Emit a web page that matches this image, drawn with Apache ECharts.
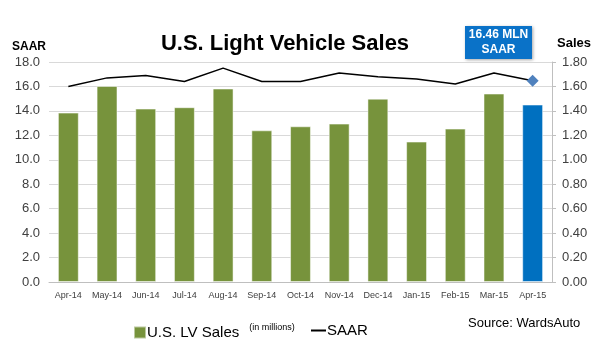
<!DOCTYPE html>
<html>
<head>
<meta charset="utf-8">
<script src="https://cdn.jsdelivr.net/npm/echarts@6/dist/echarts.min.js"></script>
<style>
  html, body { margin: 0; padding: 0; background: #fff; }
  #chart { width: 606px; height: 353px; }
</style>
</head>
<body>
<div id="chart"></div>
<script>
const months = ['Apr-14', 'May-14', 'Jun-14', 'Jul-14', 'Aug-14', 'Sep-14', 'Oct-14',
  'Nov-14', 'Dec-14', 'Jan-15', 'Feb-15', 'Mar-15', 'Apr-15']
// monthly sales, millions (right axis)
const sales = [1.386, 1.604, 1.419, 1.430, 1.583, 1.241, 1.274, 1.296, 1.500, 1.149, 1.255, 1.542, 1.452]
// seasonally adjusted annual rate, millions (left axis)
const saar = [16.0, 16.7, 16.9, 16.4, 17.5, 16.4, 16.4, 17.1, 16.8, 16.6, 16.2, 17.1, 16.46]

const green = '#77933C'
const blue = '#0070C0'
const font = 'Liberation Sans, Arial, sans-serif'

const chart = echarts.init(document.getElementById('chart'))

const lastIdx = months.length - 1
const barData = sales.map((v, i) => i === lastIdx ? { value: v, itemStyle: { color: blue } } : v)
const lineData = saar.map((v, i) => i === lastIdx
  ? { value: v, symbol: 'diamond', symbolSize: 12, itemStyle: { color: '#4F81BD' } }
  : v)

chart.setOption({
  animation: false,
  textStyle: { fontFamily: font },
  title: {
    text: 'U.S. Light Vehicle Sales',
    left: 280,
    textAlign: 'center',
    top: 28,
    textStyle: { fontSize: 22, fontWeight: 'bold', color: '#000', fontFamily: font }
  },
  grid: { left: 49, right: 54, top: 62, bottom: 71 },
  legend: [
    {
      left: 128,
      top: 318,
      itemWidth: 12,
      itemHeight: 12,
      data: [{ name: 'U.S. LV Sales', icon: 'rect' }],
      formatter: () => '{a|U.S. LV Sales}{b|(in millions)}',
      textStyle: {
        padding: [0, 0, 0, -4],
        rich: {
          a: { fontSize: 15, color: '#000', fontFamily: font },
          b: { fontSize: 9, color: '#000', fontFamily: font, verticalAlign: 'top', padding: [0, 0, 10, 10] }
        }
      }
    },
    {
      left: 306,
      top: 318,
      itemWidth: 15,
      itemHeight: 2,
      data: [{ name: 'SAAR', icon: 'rect', itemStyle: { color: '#000' } }],
      textStyle: { fontSize: 15, color: '#000', padding: [0, 0, 0, -4] }
    }
  ],
  xAxis: {
    type: 'category',
    data: months,
    axisLine: { lineStyle: { color: '#bfbfbf' } },
    axisTick: { show: false },
    axisLabel: { fontSize: 9, color: '#404040', margin: 9, interval: 0 }
  },
  yAxis: [
    {
      type: 'value',
      min: 0, max: 18, interval: 2,
      name: 'SAAR',
      nameLocation: 'end',
      nameGap: 9,
      nameTextStyle: { fontSize: 12, fontWeight: 'bold', color: '#000', align: 'right', padding: [0, 3, 0, 0] },
      axisLine: { show: false },
      axisTick: { show: false },
      axisLabel: { fontSize: 13, color: '#404040', margin: 9, formatter: v => v.toFixed(1) },
      splitLine: { lineStyle: { color: '#d9d9d9' } }
    },
    {
      type: 'value',
      min: 0, max: 1.8, interval: 0.2,
      name: 'Sales',
      nameLocation: 'end',
      nameGap: 12,
      nameTextStyle: { fontSize: 13, fontWeight: 'bold', color: '#000', align: 'left', padding: [0, 0, 0, 5] },
      axisLine: { show: true, lineStyle: { color: '#bfbfbf' } },
      axisTick: { show: true, length: 4, lineStyle: { color: '#bfbfbf' } },
      axisLabel: { fontSize: 13, color: '#404040', margin: 10, formatter: v => v.toFixed(2) },
      splitLine: { show: false }
    }
  ],
  series: [
    {
      name: 'U.S. LV Sales',
      type: 'bar',
      yAxisIndex: 1,
      data: barData,
      barWidth: '54%',
      itemStyle: { color: green, borderColor: 'rgba(255,255,255,0.5)', borderWidth: 1 }
    },
    {
      name: 'SAAR',
      type: 'line',
      yAxisIndex: 0,
      data: lineData,
      symbol: 'none',
      lineStyle: { color: '#000', width: 1.5 },
      itemStyle: { color: '#000' }
    }
  ],
  graphic: [
    {
      type: 'group',
      left: 465,
      top: 26,
      children: [
        {
          type: 'rect',
          shape: { x: 0, y: 0, width: 67, height: 33 },
          style: { fill: '#0A72C8', shadowBlur: 3, shadowOffsetX: 1, shadowOffsetY: 1, shadowColor: 'rgba(0,0,0,0.35)' }
        },
        {
          type: 'text',
          x: 33.5, y: 16.5,
          style: {
            text: '16.46 MLN\nSAAR',
            fill: '#fff',
            font: 'bold 12px ' + font,
            align: 'center',
            verticalAlign: 'middle',
            lineHeight: 15
          }
        }
      ]
    },
    {
      type: 'text',
      left: 468,
      top: 317,
      style: { text: 'Source: WardsAuto', fill: '#000', font: '13px ' + font }
    }
  ]
})
</script>
</body>
</html>
